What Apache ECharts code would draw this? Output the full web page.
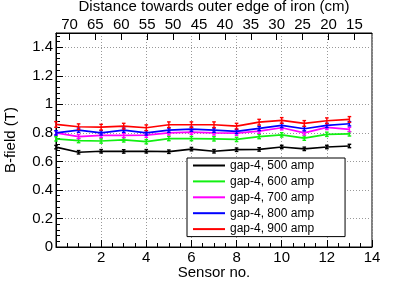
<!DOCTYPE html>
<html>
<head>
<meta charset="utf-8">
<script src="https://cdn.jsdelivr.net/npm/echarts@6/dist/echarts.min.js"></script>
<style>
html,body{margin:0;padding:0;background:#fff;}
#chart{width:415px;height:281px;}
</style>
</head>
<body>
<div id="chart"></div>
<script>
// ---- data ----
const sensors = [0, 1, 2, 3, 4, 5, 6, 7, 8, 9, 10, 11, 12, 13];
const seriesNames = ['gap-4, 500 amp', 'gap-4, 600 amp', 'gap-4, 700 amp', 'gap-4, 800 amp', 'gap-4, 900 amp'];
const amp500 = [0.700, 0.664, 0.671, 0.670, 0.671, 0.668, 0.686, 0.671, 0.682, 0.684, 0.701, 0.688, 0.701, 0.708];
const amp600 = [0.758, 0.746, 0.743, 0.751, 0.738, 0.760, 0.760, 0.758, 0.754, 0.774, 0.786, 0.763, 0.790, 0.793];
const amp700 = [0.800, 0.774, 0.782, 0.782, 0.784, 0.800, 0.805, 0.800, 0.798, 0.812, 0.836, 0.800, 0.838, 0.824];
const amp800 = [0.800, 0.819, 0.800, 0.819, 0.800, 0.819, 0.826, 0.819, 0.810, 0.831, 0.852, 0.829, 0.852, 0.864];
const amp900 = [0.859, 0.843, 0.840, 0.847, 0.836, 0.857, 0.857, 0.857, 0.847, 0.875, 0.887, 0.866, 0.885, 0.894];
const errors = [0.012, 0.015, 0.015, 0.015, 0.020];
const distTicks = [15, 20, 25, 30, 35, 40, 45, 50, 55, 60, 65, 70];

const allValues = [amp500, amp600, amp700, amp800, amp900];
const colors = ['#000000', '#11f011', '#ff00ff', '#0000ff', '#ff0000'];
const FONT = "'Liberation Sans', Arial, Helvetica, sans-serif";

const series = [];
allValues.forEach((vals, i) => {
  series.push({
    name: seriesNames[i],
    type: 'line',
    xAxisIndex: 0, yAxisIndex: 0,
    data: sensors.map((s, k) => [s, vals[k]]),
    showSymbol: false,
    symbol: 'none',
    lineStyle: {color: colors[i], width: 1.7},
    itemStyle: {color: colors[i]},
    animation: false,
    z: 3 + i
  });
});
allValues.forEach((vals, i) => {
  const col = colors[i];
  series.push({
    name: 'err' + i,
    type: 'custom',
    xAxisIndex: 0, yAxisIndex: 0,
    data: sensors.map((s, k) => [s, vals[k], errors[i]]),
    encode: {x: 0, y: 1},
    animation: false,
    z: 3 + i,
    renderItem: function (params, api) {
      const x = api.value(0), y = api.value(1), e = api.value(2);
      const t = api.coord([x, y + e]);
      const b = api.coord([x, y - e]);
      const w = 1.8;
      const st = {stroke: col, lineWidth: 1.4};
      return {
        type: 'group',
        children: [
          {type: 'line', shape: {x1: t[0], y1: t[1], x2: b[0], y2: b[1]}, style: st},
          {type: 'line', shape: {x1: t[0] - w, y1: t[1], x2: t[0] + w, y2: t[1]}, style: st},
          {type: 'line', shape: {x1: b[0] - w, y1: b[1], x2: b[0] + w, y2: b[1]}, style: st}
        ]
      };
    }
  });
});

const chart = echarts.init(document.getElementById('chart'), null, {renderer: 'canvas'});
chart.setOption({
  backgroundColor: '#ffffff',
  animation: false,
  textStyle: {fontFamily: FONT},
  grid: {left: 56, right: 43, top: 33, bottom: 34, containLabel: false, outerBoundsMode: 'none',
    show: true, borderColor: '#000', borderWidth: 1, backgroundColor: 'transparent'},
  legend: {
    orient: 'vertical',
    left: 187, top: 158,
    data: seriesNames,
    icon: 'rect',
    itemWidth: 32, itemHeight: 2,
    itemGap: 0.9,
    padding: [0, 31, 0, 6],
    backgroundColor: '#fff',
    borderColor: '#000',
    borderWidth: 1,
    borderRadius: 0,
    selectedMode: false,
    textStyle: {fontFamily: FONT, fontSize: 12, color: '#000', lineHeight: 15}
  },
  xAxis: [
    {
      type: 'value', position: 'bottom', min: 0, max: 14, interval: 2,
      name: 'Sensor no.', nameLocation: 'middle', nameGap: 18, nameMoveOverlap: false,
      nameTextStyle: {fontFamily: FONT, fontSize: 15, color: '#000'},
      axisLine: {show: true, onZero: false, lineStyle: {color: '#000', width: 1}},
      axisTick: {show: true, inside: true, length: 7, lineStyle: {color: '#000'}},
      minorTick: {show: true, splitNumber: 4, length: 4, lineStyle: {color: '#000'}},
      axisLabel: {fontFamily: FONT, fontSize: 15, color: '#000', margin: 3,
        formatter: v => (v === 0 ? '' : String(v))},
      splitLine: {show: true, lineStyle: {color: '#999', type: [1, 2], width: 1}}
    },
    {
      type: 'value', position: 'top', inverse: true, min: 11.6, max: 72.6,
      name: 'Distance towards outer edge of iron (cm)', nameLocation: 'middle', nameGap: 19, nameMoveOverlap: false,
      nameTextStyle: {fontFamily: FONT, fontSize: 15, color: '#000'},
      axisLine: {show: true, onZero: false, lineStyle: {color: '#000', width: 1}},
      axisTick: {show: true, inside: true, length: 7, customValues: distTicks, lineStyle: {color: '#000'}},
      axisLabel: {fontFamily: FONT, fontSize: 15, color: '#000', margin: 1, customValues: distTicks},
      splitLine: {show: false}
    }
  ],
  yAxis: {
    type: 'value', min: 0, max: 1.5, interval: 0.2,
    name: 'B-field (T)', nameLocation: 'middle', nameGap: 38, nameMoveOverlap: false,
    nameTextStyle: {fontFamily: FONT, fontSize: 15, color: '#000'},
    axisLine: {show: true, onZero: false, lineStyle: {color: '#000', width: 1}},
    axisTick: {show: true, inside: true, length: 7, lineStyle: {color: '#000'}},
    minorTick: {show: true, splitNumber: 5, length: 4, lineStyle: {color: '#000'}},
    axisLabel: {fontFamily: FONT, fontSize: 15, color: '#000', margin: 3,
      formatter: v => (v > 1.45 ? '' : String(Math.round(v * 10) / 10))},
    splitLine: {show: true, lineStyle: {color: '#999', type: [1, 2], width: 1}}
  },
  series: series
});
</script>
</body>
</html>
